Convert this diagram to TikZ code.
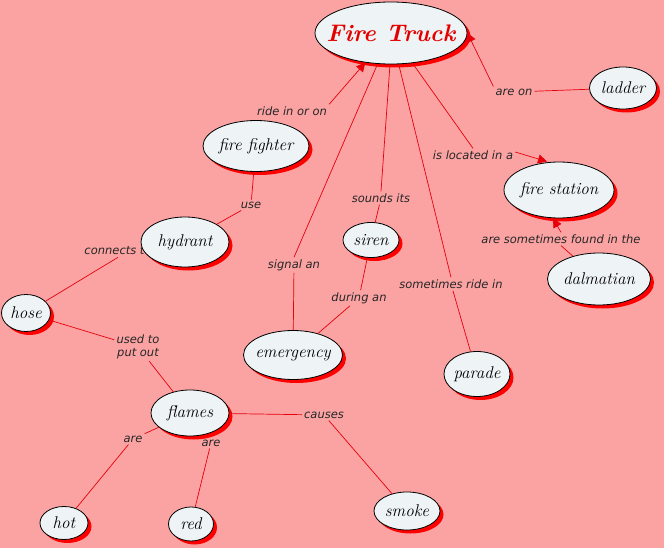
\documentclass[tikz,border=0pt]{standalone}
\usepackage{fontspec}
\newfontfamily\lnkfont{DejaVu Sans}
\usetikzlibrary{arrows.meta,shapes.geometric,shadows}
\definecolor{bg}{HTML}{FBA3A3}
\definecolor{nodefill}{HTML}{EEF3F5}
\definecolor{lnk}{HTML}{E8000B}
\begin{document}
\begin{tikzpicture}[x=1pt,y=-1pt,
 concept/.style={ellipse,draw=black,line width=0.8pt,fill=nodefill,inner xsep=-6pt,inner ysep=0pt,
   font=\fontsize{17}{17}\selectfont\itshape,
   drop shadow={shadow xshift=3.5pt,shadow yshift=-3.5pt,fill=red,opacity=1}},
 lbl/.style={inner sep=2pt,font=\lnkfont\itshape\fontsize{11.5}{13}\selectfont,text=black!85,align=center},
 con/.style={draw=lnk,line width=0.7pt},
 arr/.style={con,-{Triangle[length=9pt,width=9pt]}}
]
\fill[bg] (0,0) rectangle (664,548);
\useasboundingbox (0,0) rectangle (664,548);

% link labels (connects to first so hydrant covers it)
\node[lbl] (lconn) at (118,251) {connects to};

% concepts
\node[concept,inner xsep=-14pt,minimum width=152pt,minimum height=62pt,font=\fontsize{24}{24}\selectfont\bfseries\itshape,text={red!90!black}] (ft) at (391,33) {Fire Truck};
\node[concept,minimum width=67pt,minimum height=42pt] (ladder) at (623,88) {ladder};
\node[concept,minimum width=110pt,minimum height=56pt] (fs) at (559,190) {fire station};
\node[concept,minimum width=103pt,minimum height=52pt] (dal) at (599,279) {dalmatian};
\node[concept,minimum width=106pt,minimum height=51pt] (ff) at (256,146) {fire fighter};
\node[concept,minimum width=88pt,minimum height=50pt] (hyd) at (185,242) {hydrant};
\node[concept,minimum width=49pt,minimum height=37pt] (hose) at (26,313) {hose};
\node[concept,minimum width=56pt,minimum height=35pt] (siren) at (371,240) {siren};
\node[concept,minimum width=99pt,minimum height=49pt] (emer) at (293,355) {emergency};
\node[concept,minimum width=66pt,minimum height=45pt] (parade) at (477,374) {parade};
\node[concept,minimum width=78pt,minimum height=46pt] (flames) at (190,413) {flames};
\node[concept,minimum width=66pt,minimum height=38pt] (smoke) at (407,511) {smoke};
\node[concept,minimum width=45pt,minimum height=34pt] (red) at (191,524) {red};
\node[concept,minimum width=48pt,minimum height=33pt] (hot) at (64,523) {hot};

% other link labels
\node[lbl] (lareon) at (514,92) {are on};
\node[lbl] (lloc) at (473,155) {is located in a};
\node[lbl] (lfound) at (561,239) {are sometimes found in the};
\node[lbl] (lsounds) at (381,198) {sounds its};
\node[lbl] (lsignal) at (294,265) {signal an};
\node[lbl] (lride) at (451,284) {sometimes ride in};
\node[lbl] (lrideon) at (292,111) {ride in or on};
\node[lbl] (luse) at (251,205) {use};
\node[lbl] (lused) at (138,347) {used to\\put out};
\node[lbl] (lhot) at (133,439) {are};
\node[lbl] (lred) at (211,443) {are};
\node[lbl] (lcauses) at (324,415) {causes};
\node[lbl] (lduring) at (359,298) {during an};

% connectors
\draw[con] (ladder) -- (lareon);
\draw[arr] (lareon.north west) -- (ft.east);
\draw[con] (ft) -- (lloc.north);
\draw[arr] ([yshift=3pt]lloc.east) -- ([xshift=-12pt]fs.north);
\draw[con] (dal) -- (lfound.south);
\draw[arr] (lfound.north) -- ([xshift=-6pt]fs.south);
\draw[con] (ft.south) ++(-1pt,0) -- (lsounds.north);
\draw[con] (lsounds) -- (siren);
\draw[con] (ft) -- (lsignal.north);
\draw[con] (lsignal) -- (emer);
\draw[con] (ft) -- (lride.north);
\draw[con] (lride) -- (parade);
\draw[arr] (lrideon.north east) -- (ft);
\draw[con] (ff) -- (luse);
\draw[con] (luse) -- (hyd);
\draw[con] (hose) -- (lconn.south);
\draw[con] (hose) -- (lused);
\draw[con] (lused) -- (flames);
\draw[con] (flames) -- (lhot);
\draw[con] (lhot) -- (hot);
\draw[con] (lred) -- (red);
\draw[con] (flames) -- (lcauses);
\draw[con] (lcauses) -- (smoke);
\draw[con] (siren) -- (lduring);
\draw[con] (lduring) -- (emer);
\end{tikzpicture}
\end{document}
